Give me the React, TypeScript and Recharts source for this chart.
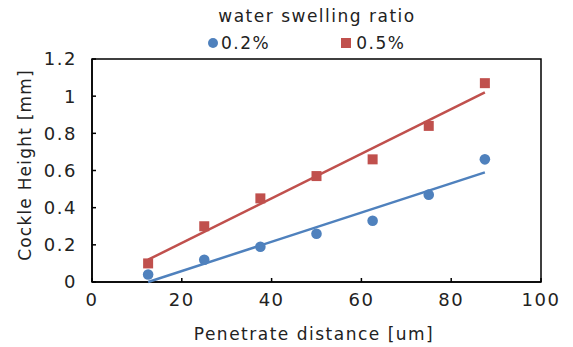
import React from 'react';
import {
  ComposedChart,
  Scatter,
  XAxis,
  YAxis,
  ReferenceArea,
  Label,
} from 'recharts';

const distances = [12.5, 25, 37.5, 50, 62.5, 75, 87.5];
const height02 = [0.04, 0.12, 0.19, 0.26, 0.33, 0.47, 0.66];
const height05 = [0.1, 0.3, 0.45, 0.57, 0.66, 0.84, 1.07];

// trend line end points
const trendX = [12.5, 87.5];
const trend02 = [0.0, 0.59];
const trend05 = [0.12, 1.02];

const xTicks = [0, 20, 40, 60, 80, 100];
const yTicks = [0, 0.2, 0.4, 0.6, 0.8, 1, 1.2];

const BLUE = '#4F81BD';
const RED = '#C0504D';
const FONT = '"DejaVu Sans", sans-serif';

const points02 = distances.map((x, i) => ({ x, y: height02[i] }));
const points05 = distances.map((x, i) => ({ x, y: height05[i] }));
const line02 = trendX.map((x, i) => ({ x, y: trend02[i] }));
const line05 = trendX.map((x, i) => ({ x, y: trend05[i] }));

const tickStyle = { fontSize: 18, fill: '#222', fontFamily: FONT, letterSpacing: 1.5 };

const Dot = (props: any) => <circle cx={props.cx} cy={props.cy} r={5.3} fill={BLUE} />;
const Square = (props: any) => (
  <rect x={props.cx - 5} y={props.cy - 5} width={10} height={10} fill={RED} />
);
const NoShape = () => <g />;

export default function App() {
  return (
    <div style={{ position: 'absolute', left: 0, top: 0, width: 573, height: 347, background: '#fff' }}>
      <ComposedChart
        width={573}
        height={347}
        margin={{ top: 59, right: 32, bottom: 0, left: 0 }}
      >
        <XAxis
          type="number"
          dataKey="x"
          domain={[0, 100]}
          ticks={xTicks}
          height={65}
          stroke="#000"
          strokeWidth={1.5}
          tickSize={-4}
          tickMargin={15}
          tick={tickStyle}
        >
          <Label
            content={() => (
              <text x={314} y={340} textAnchor="middle" fontSize={17} fill="#222" fontFamily={FONT} letterSpacing={1.5}>
                Penetrate distance [um]
              </text>
            )}
          />
        </XAxis>
        <YAxis
          type="number"
          dataKey="y"
          domain={[0, 1.2]}
          ticks={yTicks}
          width={92}
          stroke="#000"
          strokeWidth={1.5}
          tickSize={-4}
          tickMargin={19}
          tick={tickStyle}
        >
          <Label
            content={() => (
              <text
                x={25}
                y={165}
                transform="rotate(-90 25 165)"
                textAnchor="middle"
                dominantBaseline="central"
                fontSize={17}
                fill="#222"
                fontFamily={FONT}
                letterSpacing={1.2}
              >
                Cockle Height [mm]
              </text>
            )}
          />
        </YAxis>
        <ReferenceArea x1={0} x2={100} y1={0} y2={1.2} fill="none" stroke="#000" strokeWidth={1.5} ifOverflow="visible" />
        <Scatter data={line05} line={{ stroke: RED, strokeWidth: 2.5 }} shape={NoShape} isAnimationActive={false} />
        <Scatter data={line02} line={{ stroke: BLUE, strokeWidth: 2.5 }} shape={NoShape} isAnimationActive={false} />
        <Scatter data={points02} shape={Dot} isAnimationActive={false} />
        <Scatter data={points05} shape={Square} isAnimationActive={false} />
      </ComposedChart>
      <div
        style={{
          position: 'absolute',
          left: 0,
          top: 4,
          width: 634,
          textAlign: 'center',
          fontFamily: FONT,
          fontSize: 17,
          letterSpacing: 1.5,
          color: '#222',
          lineHeight: '24px',
        }}
      >
        water swelling ratio
      </div>
      <div style={{ position: 'absolute', left: 208, top: 31, display: 'flex', alignItems: 'center', fontFamily: FONT, fontSize: 17, letterSpacing: 1.5, color: '#222', lineHeight: '24px' }}>
        <span style={{ width: 10, height: 10, borderRadius: 5, background: BLUE, display: 'inline-block', marginRight: 3 }} />
        <span>0.2%</span>
        <span style={{ width: 10, height: 10, background: RED, display: 'inline-block', marginLeft: 71, marginRight: 5 }} />
        <span>0.5%</span>
      </div>
    </div>
  );
}
